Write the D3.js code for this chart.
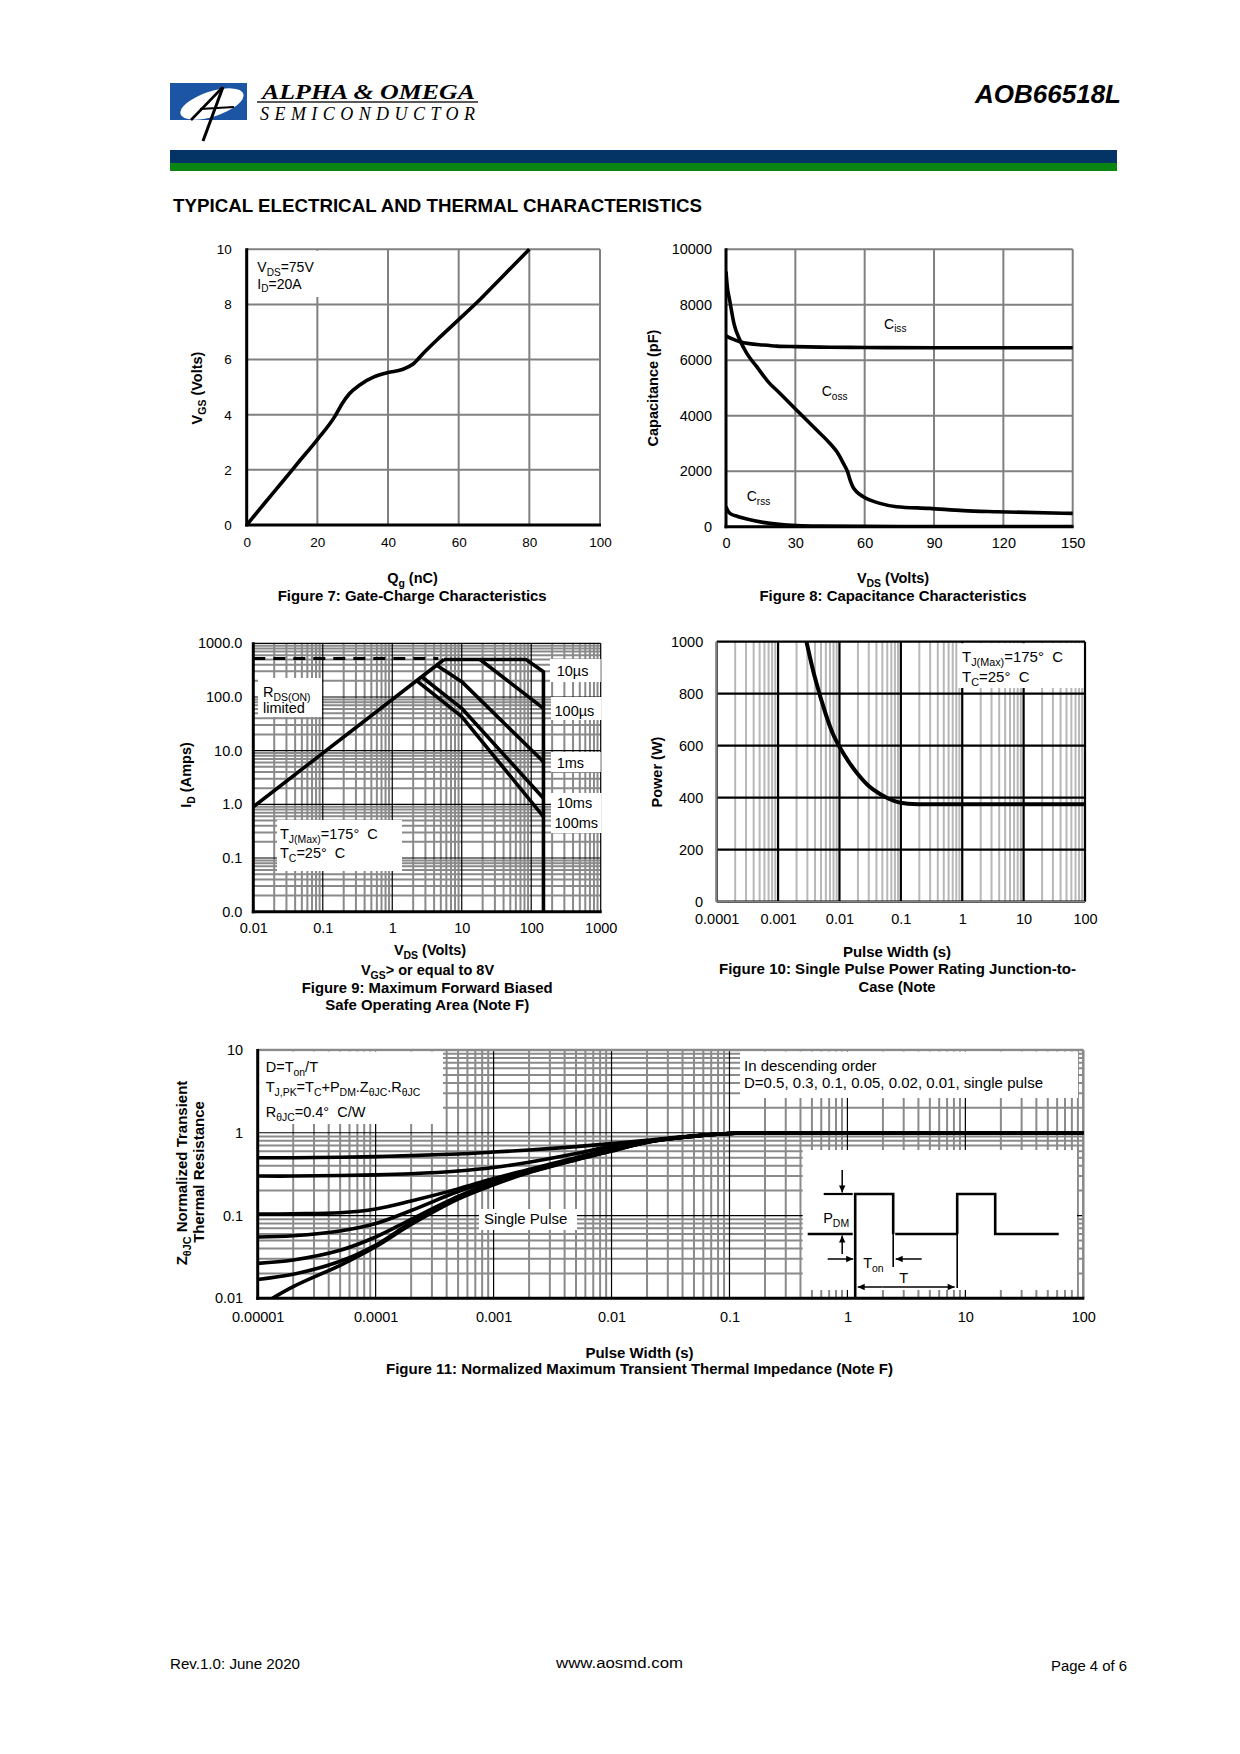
<!DOCTYPE html>
<html><head><meta charset="utf-8">
<script src="https://cdn.jsdelivr.net/npm/d3@7"></script>
<style>body{margin:0;background:#fff} svg{display:block} text{white-space:pre}</style>
</head><body><svg id="page" width="1240" height="1754"></svg>
<script>
// ================= DATA =================
// Figure 7: Gate charge
const fig7XTicks = [0,20,40,60,80,100];
const fig7YTicks = [0,2,4,6,8,10];
const fig7Qg  = [0,5,10,15,20,25,27,29,32,36,40,44,47,50,55,60,65,70,75,80];
const fig7Vgs = [0,0.78,1.55,2.33,3.1,3.95,4.4,4.75,5.08,5.37,5.53,5.64,5.83,6.23,6.85,7.45,8.05,8.7,9.35,10];

// Figure 8: Capacitance
const fig8XTicks = [0,30,60,90,120,150];
const fig8YTicks = [0,2000,4000,6000,8000,10000];
const cissV = [0,3,6,10,16,22,30,45,60,90,120,150];
const cissC = [6875,6760,6670,6600,6550,6510,6490,6470,6460,6450,6450,6450];
const cossV = [0,0.5,1.7,3.5,6,9,13.3,18,23.4,30.6,37.8,45,48,50.8,52.5,53.7,55,56.5,59.4,66.6,73.8,88,102.7,117,150];
const cossC = [9200,8700,8110,7300,6730,6250,5770,5250,4800,4200,3600,3000,2700,2280,2000,1680,1420,1260,1080,840,720,660,580,540,480];
const crssV = [0,0.5,1.7,5,9,16,23,30.6,40,60,90,150];
const crssC = [720,620,480,370,276,156,84,40,20,10,8,5];

// Figure 9: SOA
const fig9XTicks  = [0.01,0.1,1,10,100,1000];
const fig9XLabels = ["0.01","0.1","1","10","100","1000"];
const fig9YTicks  = [0.01,0.1,1,10,100,1000];
const fig9YLabels = ["0.0","0.1","1.0","10.0","100.0","1000.0"];
const soaDashV = [0.01,4.6],  soaDashI = [520,520];
const rdsV   = [0.01,5.56],   rdsI   = [0.9,500];
const us10V  = [5.56,84,150,150], us10I = [500,500,295,0.01];
const us100V = [18.3,150],    us100I = [500,61.5];
const ms1V   = [4.36,10,150], ms1I   = [392,193,6.2];
const ms10V  = [2.65,10,150], ms10I  = [238,61.5,1.3];
const ms100V = [2.24,10,150], ms100I = [201,43,0.59];

// Figure 10: single pulse power
const fig10XTicks  = [0.0001,0.001,0.01,0.1,1,10,100];
const fig10XLabels = ["0.0001","0.001","0.01","0.1","1","10","100"];
const fig10YTicks  = [0,200,400,600,800,1000];
const pulseT = [0.0029,0.004,0.006,0.008,0.01,0.014,0.02,0.03,0.045,0.065,0.09,0.13,0.2,1,10,100];
const pulseP = [1000,860,720,640,596,540,490,445,415,395,383,377,375,375,375,375];

// Figure 11: transient thermal impedance
const fig11XTicks  = [1e-5,1e-4,1e-3,1e-2,1e-1,1,10,100];
const fig11XLabels = ["0.00001","0.0001","0.001","0.01","0.1","1","10","100"];
const fig11YTicks  = [0.01,0.1,1,10];
const fig11YLabels = ["0.01","0.1","1","10"];
const zthT    = [1e-5,2e-5,5e-5,1e-4,2e-4,5e-4,1e-3,2e-3,5e-3,1e-2,2e-2,5e-2,1e-1,2e-1,1,10,100];
const zthD05  = [0.50,0.50,0.505,0.515,0.53,0.555,0.585,0.62,0.68,0.74,0.81,0.92,0.98,1,1,1,1];
const zthD03  = [0.30,0.30,0.305,0.31,0.32,0.345,0.38,0.44,0.56,0.69,0.79,0.91,0.98,1,1,1,1];
const zthD01  = [0.104,0.105,0.108,0.12,0.15,0.21,0.28,0.36,0.50,0.64,0.78,0.91,0.98,1,1,1,1];
const zthD005 = [0.055,0.057,0.065,0.08,0.115,0.195,0.267,0.35,0.49,0.62,0.78,0.91,0.98,1,1,1,1];
const zthD002 = [0.0264,0.029,0.038,0.055,0.09,0.17,0.255,0.34,0.48,0.61,0.77,0.91,0.98,1,1,1,1];
const zthD001 = [0.0169,0.0195,0.028,0.044,0.082,0.163,0.245,0.335,0.475,0.605,0.77,0.91,0.98,1,1,1,1];
const zthSingle = [0.0078,0.0138,0.025,0.042,0.078,0.158,0.235,0.33,0.47,0.60,0.77,0.91,0.98,1,1,1,1];

// ================= HELPERS =================
const FONT = "'Liberation Sans', Arial, Helvetica, sans-serif";
const svg = d3.select('#page');
svg.append('rect').attr('width',1240).attr('height',1754).attr('fill','#fff');
const defs = svg.append('defs');

function zip(xs, ys){ return xs.map((x,i)=>[x,ys[i]]); }

function rich(parent, x, y, parts, fs, opts={}) {
  const t = parent.append('text').attr('x',x).attr('y',y)
    .attr('font-size',fs).attr('font-family',FONT).attr('fill','#000')
    .attr('xml:space','preserve');
  if (opts.weight) t.attr('font-weight',opts.weight);
  if (opts.anchor) t.attr('text-anchor',opts.anchor);
  if (opts.transform) t.attr('transform',opts.transform);
  if (opts.len) t.attr('textLength',opts.len).attr('lengthAdjust','spacingAndGlyphs');
  let sub = false;
  parts.forEach(p => {
    const isSub = Array.isArray(p);
    const s = isSub ? p[0] : p;
    const ts = t.append('tspan').text(s);
    if (isSub) {
      ts.attr('font-size', fs*0.72);
      if (!sub) { ts.attr('dy', fs*0.28); sub = true; }
    } else if (sub) { ts.attr('dy', -fs*0.28); sub = false; }
  });
  return t;
}

function styleAxis(g, fs) {
  g.select('.domain').remove();
  g.selectAll('.tick line').remove();
  g.attr('font-family', FONT).attr('font-size', fs).attr('color', '#000');
  g.selectAll('text').attr('fill','#000');
}

function logMinor(lo, hi) {
  const v = [];
  for (let e = Math.round(Math.log10(lo)); e < Math.round(Math.log10(hi)); e++)
    for (let k = 2; k <= 9; k++) v.push(k * Math.pow(10, e));
  return v;
}

function vline(g, x, y1, y2, color, w) {
  g.append('line').attr('x1',x).attr('x2',x).attr('y1',y1).attr('y2',y2)
    .attr('stroke',color).attr('stroke-width',w);
}
function hline(g, y, x1, x2, color, w) {
  g.append('line').attr('x1',x1).attr('x2',x2).attr('y1',y).attr('y2',y)
    .attr('stroke',color).attr('stroke-width',w);
}
function whiteBox(g, x1, y1, x2, y2) {
  g.append('rect').attr('x',x1).attr('y',y1).attr('width',x2-x1).attr('height',y2-y1).attr('fill','#fff');
}
function clip(id, L, T, R, B) {
  defs.append('clipPath').attr('id',id).append('rect')
    .attr('x',L).attr('y',T-2).attr('width',R-L+2).attr('height',B-T+2);
  return `url(#${id})`;
}
function curve(g, x, y, xs, ys, w, cp, kind='mono', dash=null) {
  const line = d3.line().x(d=>x(d[0])).y(d=>y(d[1]));
  if (kind === 'mono') line.curve(d3.curveMonotoneX);
  else if (kind === 'cr') line.curve(d3.curveCatmullRom.alpha(0.5));
  const p = g.append('path').attr('d', line(zip(xs,ys))).attr('fill','none')
    .attr('stroke','#000').attr('stroke-width',w).attr('stroke-linejoin','round');
  if (cp) p.attr('clip-path', cp);
  if (dash) p.attr('stroke-dasharray', dash);
  return p;
}

// ================= HEADER =================
const hdr = svg.append('g');
hdr.append('rect').attr('x',170).attr('y',83).attr('width',77).attr('height',37).attr('fill','#1c55a3');
hdr.append('ellipse').attr('cx',212).attr('cy',104).attr('rx',33).attr('ry',12.5)
  .attr('transform','rotate(-18,212,104)').attr('fill','#fff');
hdr.append('path').attr('d','M191,120 L222,88').attr('stroke','#000').attr('stroke-width',2.6).attr('fill','none');
hdr.append('path').attr('d','M223,87 L203,141').attr('stroke','#000').attr('stroke-width',3).attr('fill','none');
hdr.append('path').attr('d','M200,109 L234,107').attr('stroke','#000').attr('stroke-width',1.8).attr('fill','none');
hdr.append('text').attr('x',262).attr('y',98.5).attr('font-family',"'Liberation Serif','Times New Roman',serif")
  .attr('font-style','italic').attr('font-weight','bold').attr('font-size',20)
  .attr('textLength',213).attr('lengthAdjust','spacingAndGlyphs').text('ALPHA & OMEGA');
hdr.append('line').attr('x1',257).attr('x2',478).attr('y1',102).attr('y2',102).attr('stroke','#222').attr('stroke-width',1.6);
hdr.append('text').attr('x',260).attr('y',120).attr('font-family',"'Liberation Serif','Times New Roman',serif")
  .attr('font-style','italic').attr('font-size',18)
  .attr('textLength',215).attr('lengthAdjust','spacing').text('SEMICONDUCTOR');
hdr.append('text').attr('x',1121).attr('y',103).attr('text-anchor','end').attr('font-family',FONT)
  .attr('font-style','italic').attr('font-weight','bold').attr('font-size',25)
  .attr('textLength',146).attr('lengthAdjust','spacingAndGlyphs').text('AOB66518L');
hdr.append('rect').attr('x',170).attr('y',150).attr('width',947).attr('height',13).attr('fill','#043366');
hdr.append('rect').attr('x',170).attr('y',163).attr('width',947).attr('height',8).attr('fill','#0b8511');
hdr.append('text').attr('x',173).attr('y',211.5).attr('font-family',FONT).attr('font-weight','bold')
  .attr('font-size',18.5).attr('textLength',529).attr('lengthAdjust','spacingAndGlyphs')
  .text('TYPICAL ELECTRICAL AND THERMAL CHARACTERISTICS');

// ================= FIGURE 7 =================
(function(){
  const L=246.7, R=600, T=249.3, B=525;
  const g = svg.append('g');
  const x = d3.scaleLinear().domain([0,100]).range([L,R]);
  const y = d3.scaleLinear().domain([0,10]).range([B,T]);
  fig7XTicks.forEach(v => vline(g, x(v), T, B, '#808080', 2));
  fig7YTicks.forEach(v => hline(g, y(v), L, R, '#808080', 2));
  whiteBox(g, L+1.5, T+1.5, 326, 297);
  vline(g, L, T-1, B+1.5, '#000', 3);
  hline(g, B, L-1.5, R+1, '#000', 3);
  const ax = g.append('g').attr('transform',`translate(0,${B})`)
    .call(d3.axisBottom(x).tickValues(fig7XTicks).tickSize(0).tickPadding(12).tickFormat(d3.format('d')));
  styleAxis(ax, 13.5);
  const ay = g.append('g').attr('transform',`translate(${L},0)`)
    .call(d3.axisLeft(y).tickValues(fig7YTicks).tickSize(0).tickPadding(15).tickFormat(d3.format('d')));
  styleAxis(ay, 13.5);
  curve(g, x, y, fig7Qg, fig7Vgs, 3.6, clip('c7',L,T,R,B));
  rich(g, 257.3, 272, ['V',['DS'],'=75V'], 14);
  rich(g, 257.3, 288.5, ['I',['D'],'=20A'], 14);
  rich(g, 412.5, 583, ['Q',['g'],' (nC)'], 14.5, {weight:'bold', anchor:'middle'});
  rich(g, 412.2, 600.5, ['Figure 7: Gate-Charge Characteristics'], 15, {weight:'bold', anchor:'middle', len:269});
  rich(g, 0, 0, ['V',['GS'],' (Volts)'], 14.5, {weight:'bold', anchor:'middle', transform:'translate(202,388) rotate(-90)'});
})();

// ================= FIGURE 8 =================
(function(){
  const L=726, R=1072.7, T=249.3, B=526.7;
  const g = svg.append('g');
  const x = d3.scaleLinear().domain([0,150]).range([L,R]);
  const y = d3.scaleLinear().domain([0,10000]).range([B,T]);
  fig8XTicks.forEach(v => vline(g, x(v), T, B, '#808080', 2));
  fig8YTicks.forEach(v => hline(g, y(v), L, R, '#808080', 2));
  vline(g, L, T-1, B+1.5, '#000', 3);
  hline(g, B, L-1.5, R+1, '#000', 3);
  const ax = g.append('g').attr('transform',`translate(0,${B})`)
    .call(d3.axisBottom(x).tickValues(fig8XTicks).tickSize(0).tickPadding(11).tickFormat(d3.format('d')));
  styleAxis(ax, 14.5);
  const ay = g.append('g').attr('transform',`translate(${L},0)`)
    .call(d3.axisLeft(y).tickValues(fig8YTicks).tickSize(0).tickPadding(14).tickFormat(d3.format('d')));
  styleAxis(ay, 14.5);
  const cp = clip('c8',L,T,R,B);
  curve(g, x, y, cissV, cissC, 3.6, cp);
  curve(g, x, y, cossV, cossC, 3.6, cp);
  curve(g, x, y, crssV, crssC, 3.6, cp);
  rich(g, 884, 328.5, ['C',['iss']], 14);
  rich(g, 821.7, 395.7, ['C',['oss']], 14);
  rich(g, 746.7, 500.7, ['C',['rss']], 14);
  rich(g, 893, 583, ['V',['DS'],' (Volts)'], 14.5, {weight:'bold', anchor:'middle'});
  rich(g, 893, 600.5, ['Figure 8: Capacitance Characteristics'], 15, {weight:'bold', anchor:'middle', len:267});
  rich(g, 0, 0, ['Capacitance (pF)'], 14.5, {weight:'bold', anchor:'middle', transform:'translate(657.5,388) rotate(-90)'});
})();

// ================= FIGURE 9 =================
(function(){
  const L=253.3, R=600.7, T=643.3, B=911.7;
  const g = svg.append('g');
  const x = d3.scaleLog().domain([0.01,1000]).range([L,R]);
  const y = d3.scaleLog().domain([0.01,1000]).range([B,T]);
  logMinor(0.01,1000).forEach(v => vline(g, x(v), T, B, '#8a8a8a', 2));
  logMinor(0.01,1000).forEach(v => hline(g, y(v), L, R, '#8a8a8a', 2));
  fig9XTicks.forEach(v => vline(g, x(v), T, B, '#000', 1.2));
  fig9YTicks.forEach(v => hline(g, y(v), L, R, '#000', 1.2));
  // label backgrounds
  whiteBox(g, 258, 678, 322, 717);
  whiteBox(g, 277, 820, 402, 871);
  whiteBox(g, 550, 659, R, 682);
  whiteBox(g, 551, 697, R+1, 720);
  whiteBox(g, 551, 752, R, 772);
  whiteBox(g, 551, 793, R+1, 833);
  vline(g, L, T-1, B+1.5, '#000', 3);
  hline(g, B, L-1.5, R+1, '#000', 3);
  const ax = g.append('g').attr('transform',`translate(0,${B})`)
    .call(d3.axisBottom(x).tickValues(fig9XTicks).tickSize(0).tickPadding(11).tickFormat((d,i)=>fig9XLabels[i]));
  styleAxis(ax, 14.5);
  const ay = g.append('g').attr('transform',`translate(${L},0)`)
    .call(d3.axisLeft(y).tickValues(fig9YTicks).tickSize(0).tickPadding(11).tickFormat((d,i)=>fig9YLabels[i]));
  styleAxis(ay, 14.5);
  const cp = clip('c9',L,T,R,B);
  curve(g, x, y, soaDashV, soaDashI, 3, cp, 'lin', '12,8');
  curve(g, x, y, rdsV, rdsI, 3.6, cp, 'lin');
  curve(g, x, y, us10V, us10I, 3.6, cp, 'lin');
  curve(g, x, y, us100V, us100I, 3.6, cp, 'lin');
  curve(g, x, y, ms1V, ms1I, 3.6, cp, 'lin');
  curve(g, x, y, ms10V, ms10I, 3.6, cp, 'lin');
  curve(g, x, y, ms100V, ms100I, 3.6, cp, 'lin');
  rich(g, 263, 696.5, ['R',['DS(ON)']], 14.5);
  rich(g, 263, 712.5, ['limited'], 14.5);
  rich(g, 280, 838.5, ['T',['J(Max)'],'=175°  C'], 14.5);
  rich(g, 280, 858, ['T',['C'],'=25°  C'], 14.5);
  rich(g, 556.7, 675.5, ['10\u00b5s'], 14.5);
  rich(g, 554.5, 716, ['100\u00b5s'], 14.5);
  rich(g, 556.7, 768, ['1ms'], 14.5);
  rich(g, 556.7, 808, ['10ms'], 14.5);
  rich(g, 554.5, 828, ['100ms'], 14.5);
  rich(g, 430, 955, ['V',['DS'],' (Volts)'], 14.5, {weight:'bold', anchor:'middle'});
  rich(g, 427.5, 975, ['V',['GS'],'> or equal to 8V'], 14.5, {weight:'bold', anchor:'middle'});
  rich(g, 427.2, 992.5, ['Figure 9: Maximum Forward Biased'], 15, {weight:'bold', anchor:'middle', len:251});
  rich(g, 427.2, 1010, ['Safe Operating Area (Note F)'], 15, {weight:'bold', anchor:'middle', len:204});
  rich(g, 0, 0, ['I',['D'],' (Amps)'], 14.5, {weight:'bold', anchor:'middle', transform:'translate(191,775) rotate(-90)'});
})();

// ================= FIGURE 10 =================
(function(){
  const L=716.7, R=1085, T=641.7, B=901.7;
  const g = svg.append('g');
  const x = d3.scaleLog().domain([0.0001,100]).range([L,R]);
  const y = d3.scaleLinear().domain([0,1000]).range([B,T]);
  logMinor(0.0001,100).forEach(v => vline(g, x(v), T, B, '#b8b8b8', 2));
  fig10XTicks.forEach(v => vline(g, x(v), T, B, '#000', 2.2));
  fig10YTicks.forEach(v => hline(g, y(v), L, R, '#000', 2.2));
  whiteBox(g, 958, T+1.5, R-1.5, 688);
  vline(g, L, T, B, '#808080', 1.5);
  hline(g, B, L, R, '#808080', 1.5);
  const ax = g.append('g').attr('transform',`translate(0,${B})`)
    .call(d3.axisBottom(x).tickValues(fig10XTicks).tickSize(0).tickPadding(12).tickFormat((d,i)=>fig10XLabels[i]));
  styleAxis(ax, 14.5);
  const ay = g.append('g').attr('transform',`translate(${L},0)`)
    .call(d3.axisLeft(y).tickValues(fig10YTicks).tickSize(0).tickPadding(13.5).tickFormat(d3.format('d')));
  styleAxis(ay, 14.5);
  curve(g, x, y, pulseT, pulseP, 4, clip('c10',L,T,R,B), 'cr');
  rich(g, 962, 662, ['T',['J(Max)'],'=175°  C'], 15);
  rich(g, 962, 682, ['T',['C'],'=25°  C'], 15);
  rich(g, 897, 957, ['Pulse Width (s)'], 15, {weight:'bold', anchor:'middle'});
  rich(g, 897.5, 973.5, ['Figure 10: Single Pulse Power Rating Junction-to-'], 15, {weight:'bold', anchor:'middle', len:357});
  rich(g, 897, 991.5, ['Case (Note'], 15, {weight:'bold', anchor:'middle', len:77});
  rich(g, 0, 0, ['Power (W)'], 14.5, {weight:'bold', anchor:'middle', transform:'translate(661.5,772) rotate(-90)'});
})();

// ================= FIGURE 11 =================
(function(){
  const L=257.7, R=1083.3, T=1050, B=1298.3;
  const g = svg.append('g');
  const x = d3.scaleLog().domain([1e-5,100]).range([L,R]);
  const y = d3.scaleLog().domain([0.01,10]).range([B,T]);
  logMinor(1e-5,100).forEach(v => vline(g, x(v), T, B, '#8a8a8a', 2));
  logMinor(0.01,10).forEach(v => hline(g, y(v), L, R, '#8a8a8a', 2));
  fig11XTicks.forEach(v => vline(g, x(v), T, B, '#000', 1.2));
  fig11YTicks.forEach(v => hline(g, y(v), L, R, '#000', 1.2));
  hline(g, T, L, R, '#8a8a8a', 2.5);
  vline(g, R, T, B, '#8a8a8a', 2.5);
  // annotation boxes
  whiteBox(g, L+1.5, T+1.5, 443, 1124);
  whiteBox(g, 740, T+1.5, 1078, 1098);
  whiteBox(g, 479, 1209, 577, 1230);
  const bx1 = 802.7, by1 = 1150, bx2 = 1077, by2 = 1290;
  whiteBox(g, bx1, by1, bx2, by2);
  vline(g, L, T-1, B+1.5, '#000', 3);
  hline(g, B, L-1.5, R+1, '#000', 3);
  const ax = g.append('g').attr('transform',`translate(0,${B})`)
    .call(d3.axisBottom(x).tickValues(fig11XTicks).tickSize(0).tickPadding(13).tickFormat((d,i)=>fig11XLabels[i]));
  styleAxis(ax, 14.5);
  const ay = g.append('g').attr('transform',`translate(${L},0)`)
    .call(d3.axisLeft(y).tickValues(fig11YTicks).tickSize(0).tickPadding(14.5).tickFormat((d,i)=>fig11YLabels[i]));
  styleAxis(ay, 14.5);
  const cp = clip('c11',L,T,R,B);
  [zthD05,zthD03,zthD01,zthD005,zthD002,zthD001,zthSingle].forEach(s => curve(g, x, y, zthT, s, 3.6, cp, 'cr'));
  rich(g, 265.7, 1071.5, ['D=T',['on'],'/T'], 14.5);
  rich(g, 265.7, 1091.5, ['T',['J,PK'],'=T',['C'],'+P',['DM'],'.Z',['\u03b8JC'],'.R',['\u03b8JC']], 14.5);
  rich(g, 265.7, 1116.5, ['R',['\u03b8JC'],'=0.4°  C/W'], 14.5);
  rich(g, 744, 1071, ['In descending order'], 15);
  rich(g, 744, 1087.5, ['D=0.5, 0.3, 0.1, 0.05, 0.02, 0.01, single pulse'], 15, {len:299});
  rich(g, 484, 1224, ['Single Pulse'], 15);
  // pulse diagram inside inset box (positions relative to the inset box)
  const ox = bx1, oy = by1;
  const hiY = oy + 44, loY = oy + 84;
  const p = g.append('g').attr('fill','none').attr('stroke','#000');
  const seg = (pts, w) => p.append('path').attr('d', d3.line()(pts)).attr('stroke-width', w);
  seg([[ox+5,loY],[ox+50,loY]], 2.6);
  seg([[ox+21,hiY],[ox+50,hiY]], 2.2);
  seg([[ox+52.5,by2+8],[ox+52.5,hiY],[ox+90.5,hiY],[ox+90.5,loY]], 2.6);
  seg([[ox+90.5,loY],[ox+90.5,oy+117]], 1.6);
  seg([[ox+92.5,loY],[ox+154.5,loY]], 2.6);
  seg([[ox+154.5,oy+138],[ox+154.5,loY]], 1.6);
  seg([[ox+154.5,loY],[ox+154.5,hiY],[ox+192.5,hiY],[ox+192.5,loY],[ox+256,loY]], 2.6);
  // arrows
  const arrow = (x1,y1,x2,y2) => {
    seg([[x1,y1],[x2,y2]], 1.5);
    const a = Math.atan2(y2-y1, x2-x1), s = 7, w = 3.2;
    g.append('path').attr('fill','#000').attr('d', d3.line()([
      [x2,y2],
      [x2 - s*Math.cos(a) + w*Math.sin(a), y2 - s*Math.sin(a) - w*Math.cos(a)],
      [x2 - s*Math.cos(a) - w*Math.sin(a), y2 - s*Math.sin(a) + w*Math.cos(a)]]) + 'Z');
  };
  arrow(ox+39.5, oy+20, ox+39.5, hiY-1.5);
  arrow(ox+39.5, oy+104, ox+39.5, loY+1.5);
  arrow(ox+25, oy+109, ox+50.5, oy+109);
  arrow(ox+119, oy+109, ox+93, oy+109);
  arrow(ox+80, oy+137, ox+55, oy+137);
  arrow(ox+80, oy+137, ox+152, oy+137);
  rich(g, ox+20.5, oy+73, ['P',['DM']], 14.5);
  rich(g, ox+60.5, oy+118, ['T',['on']], 14.5);
  rich(g, ox+96.5, oy+132.5, ['T'], 14.5);
  // titles
  rich(g, 639.5, 1357.5, ['Pulse Width (s)'], 15, {weight:'bold', anchor:'middle'});
  rich(g, 639.5, 1373.5, ['Figure 11: Normalized Maximum Transient Thermal Impedance (Note F)'], 15, {weight:'bold', anchor:'middle', len:507});
  rich(g, 0, 0, ['Z',['\u03b8JC'],' Normalized Transient'], 15, {weight:'bold', anchor:'middle', transform:'translate(187,1173) rotate(-90)'});
  rich(g, 0, 0, ['Thermal Resistance'], 15, {weight:'bold', anchor:'middle', transform:'translate(203.5,1172) rotate(-90)'});
})();

// ================= FOOTER =================
const ft = svg.append('g');
rich(ft, 170, 1669, ['Rev.1.0: June 2020'], 14, {len:130});
rich(ft, 619.5, 1668, ['www.aosmd.com'], 14, {anchor:'middle', len:127});
rich(ft, 1127, 1671, ['Page 4 of 6'], 14, {anchor:'end', len:76});
</script>
</body></html>
